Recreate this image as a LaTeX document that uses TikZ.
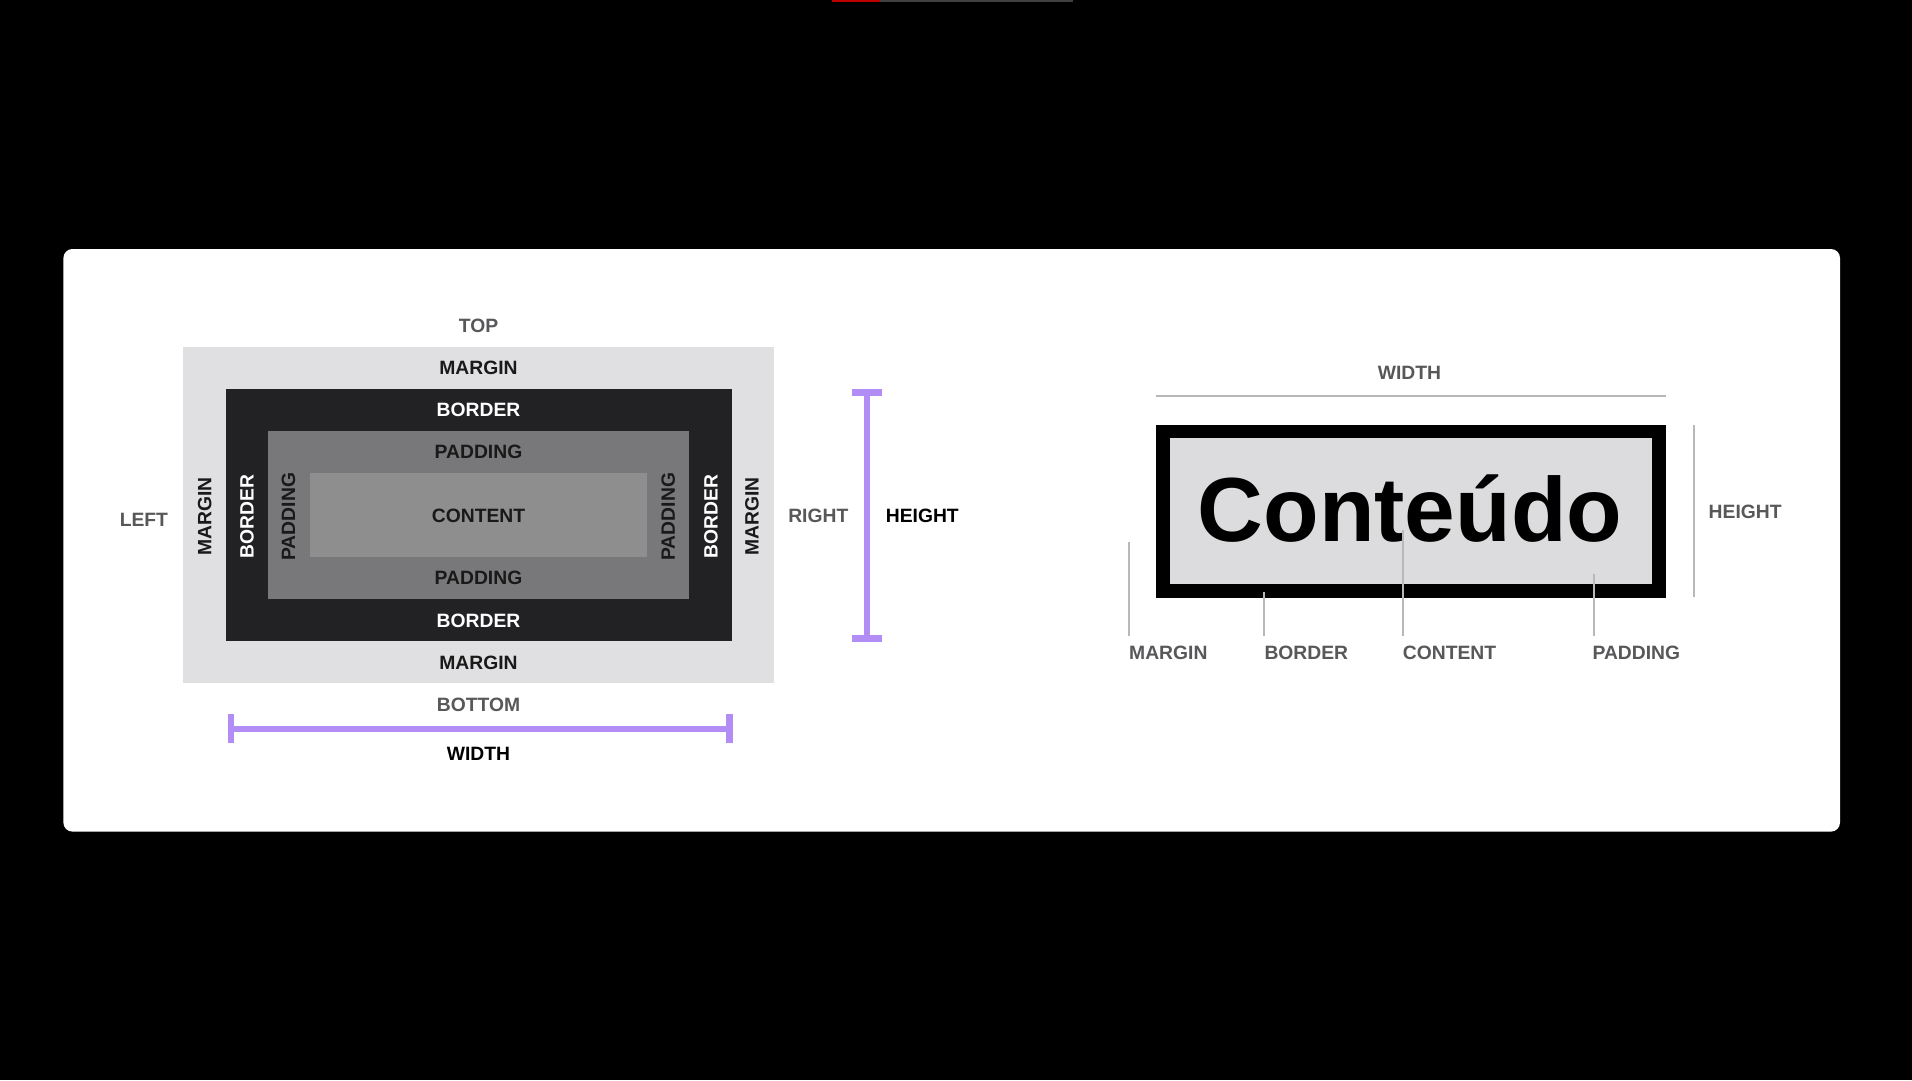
\documentclass[tikz,border=0pt]{standalone}
\usepackage{fontspec}
\setmainfont{Liberation Sans}
\definecolor{margc}{HTML}{E0E0E2}
\definecolor{bordc}{HTML}{222224}
\definecolor{padc}{HTML}{78777A}
\definecolor{contc}{HTML}{8E8E8E}
\definecolor{purp}{HTML}{B38DF6}
\definecolor{lgray}{HTML}{58585A}
\definecolor{lead}{HTML}{B8B8B8}
\definecolor{boxin}{HTML}{DCDBDD}
\begin{document}
\begin{tikzpicture}[x=1pt,y=-1pt,
  lbl/.style={font=\fontsize{19.3}{21}\selectfont\bfseries, inner sep=0pt},
  glbl/.style={lbl, text=lgray},
  leader/.style={draw=lead, line width=2pt},
  bar/.style={draw=purp, line width=6pt},
  barcap/.style={draw=purp, line width=7pt}]
\useasboundingbox (0,0) rectangle (1912,1080);
\fill[black] (0,0) rectangle (1912,1080);
\fill[red!75!black] (832,0) rectangle (880,2);
\fill[black!75] (880,0) rectangle (1073,2);
\fill[white, rounded corners=9pt] (63.4,249) rectangle (1840,831.6);
% left box model
\fill[margc] (183,347) rectangle (774,683);
\fill[bordc] (225.5,389.3) rectangle (731.5,641.3);
\fill[padc] (267.7,431.3) rectangle (689.2,599.3);
\fill[contc] (310,473.3) rectangle (646.9,557.3);
\node[glbl] (top) at (478.5,326) {TOP};
\node[lbl, text=black!90] (mt) at (478.5,368.3) {MARGIN};
\node[lbl, text=white] (bt) at (478.5,410) {BORDER};
\node[lbl, text=black!90] (pt) at (478.5,452.3) {PADDING};
\node[lbl, text=black!90] (ct) at (478.5,515.7) {CONTENT};
\node[lbl, text=black!90] (pb) at (478.5,578.3) {PADDING};
\node[lbl, text=white] (bb) at (478.5,620.7) {BORDER};
\node[lbl, text=black!90] (mb) at (478.5,662.7) {MARGIN};
\node[glbl] (bottom) at (478.5,705) {BOTTOM};
\node[lbl, text=black!90, rotate=90] (ml) at (204.8,516.7) {MARGIN};
\node[lbl, text=white, rotate=90] (bl) at (247,516.7) {BORDER};
\node[lbl, text=black!90, rotate=90] (pl) at (288.6,516.7) {PADDING};
\node[lbl, text=black!90, rotate=90] (pr) at (668.2,516.7) {PADDING};
\node[lbl, text=white, rotate=90] (br) at (711,516.7) {BORDER};
\node[lbl, text=black!90, rotate=90] (mr) at (752,516.7) {MARGIN};
\node[glbl] (left) at (143.9,519.5) {LEFT};
\node[glbl] (right) at (818.3,515.7) {RIGHT};
% height bar
\coordinate (ht) at (866.7,392.7);
\coordinate (hb) at (866.7,638);
\draw[bar] (ht) -- (hb);
\draw[barcap] ([xshift=-14.7pt]ht) -- ([xshift=15pt]ht);
\draw[barcap] ([xshift=-14.7pt]hb) -- ([xshift=15pt]hb);
\node[lbl, text=black] (hlab) at (922.3,515.7) {HEIGHT};
% width bar
\coordinate (wl) at (230.8,729.3);
\coordinate (wr) at (729.2,729.3);
\draw[bar] (wl) -- (wr);
\draw[draw=purp, line width=6.6pt] ([yshift=15pt]wl) -- ([yshift=-14pt]wl);
\draw[draw=purp, line width=6.6pt] ([yshift=15pt]wr) -- ([yshift=-14pt]wr);
\node[lbl, text=black] (wlab) at (478.5,754) {WIDTH};
% right example
\node[glbl] (rw) at (1409.5,373.3) {WIDTH};
\coordinate (rwl) at (1155.8,396);
\coordinate (rwr) at (1665.6,396);
\draw[draw=lead, line width=2.5pt] (rwl) -- (rwr);
\fill[black] (1155.8,424.7) rectangle (1665.6,598);
\fill[boxin] (1170,438.3) rectangle (1651.8,584);
\node[font=\fontsize{91}{92}\selectfont\bfseries, inner sep=0pt, anchor=base] (cont) at (1410,541.7) {Conteúdo};
\coordinate (rht) at (1693.8,424.7);
\coordinate (rhb) at (1693.8,597.3);
\draw[leader] (rht) -- (rhb);
\node[glbl, anchor=west] (rh) at (1708.5,511.7) {HEIGHT};
\node[glbl, anchor=west] (rm) at (1129,653.3) {MARGIN};
\node[glbl, anchor=west] (rb) at (1264.3,653.3) {BORDER};
\node[glbl, anchor=west] (rc) at (1402.7,653.3) {CONTENT};
\node[glbl, anchor=west] (rp) at (1592.4,653.3) {PADDING};
\coordinate (lm) at (1129,541.7);
\coordinate (lb) at (1264.3,592.3);
\coordinate (lc) at (1402.7,530);
\coordinate (lp) at (1593.8,574.3);
\draw[leader] (lm) -- (lm |- 0,635.7);
\draw[leader] (lb) -- (lb |- 0,635.7);
\draw[leader] (lc) -- (lc |- 0,635.7);
\draw[leader] (lp) -- (lp |- 0,635.7);
\end{tikzpicture}
\end{document}
